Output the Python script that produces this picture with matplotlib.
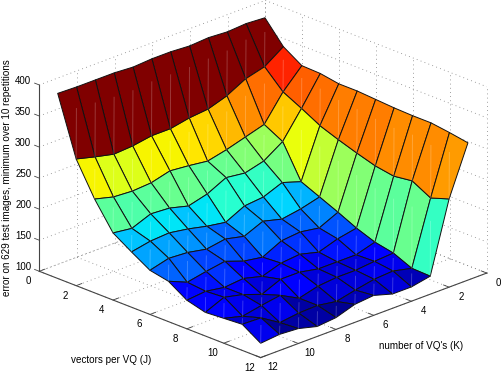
import numpy as np
import matplotlib
matplotlib.use("Agg")
import matplotlib.pyplot as plt
from mpl_toolkits.mplot3d import proj3d

plt.rcParams['font.family'] = ['Liberation Sans', 'DejaVu Sans']

#number of VQ's (K) and vectors per VQ (J)
vq_counts = [1, 2, 3, 4, 5, 6, 7, 8, 9, 10, 11, 12]
vectors_per_vq = [1, 2, 3, 4, 5, 6, 7, 8, 9, 10, 11, 12]

#error values, one list per J, going K = 1..12
error_j1 = [395, 397, 395, 397, 395, 397, 397, 395, 397, 397, 397, 398]
error_j2 = [360, 339, 331, 315, 305, 302, 296, 296, 291, 289, 296, 304]
error_j3 = [341, 310, 269, 260, 251, 244, 248, 251, 243, 241, 243, 251]
error_j4 = [340, 295, 253, 233, 225, 229, 214, 206, 214, 216, 204, 208]
error_j5 = [335, 279, 200, 210, 198, 195, 180, 185, 192, 197, 195, 189]
error_j6 = [335, 268, 187, 179, 174, 182, 169, 176, 171, 177, 179, 171]
error_j7 = [333, 258, 174, 160, 165, 162, 147, 152, 163, 158, 152, 165]
error_j8 = [331, 249, 160, 154, 144, 152, 149, 139, 147, 144, 149, 146]
error_j9 = [330, 244, 149, 140, 140, 140, 146, 146, 133, 144, 151, 138]
error_j10 = [330, 248, 143, 141, 138, 138, 135, 127, 143, 138, 132, 140]
error_j11 = [326, 232, 130, 137, 135, 129, 122, 127, 126, 122, 141, 142]
error_j12 = [321, 242, 129, 123, 123, 132, 129, 119, 116, 124, 126, 123]

axis_ticks = [0, 2, 4, 6, 8, 10, 12]
z_ticks = [100, 150, 200, 250, 300, 350, 400]

errors = np.array([error_j1, error_j2, error_j3, error_j4, error_j5, error_j6,
                   error_j7, error_j8, error_j9, error_j10, error_j11, error_j12], dtype=float)

fig = plt.figure(figsize=(5.04, 3.89), dpi=100)
#axes is bigger than the figure so nothing gets clipped at its edge
size = 700
ax = fig.add_axes([(263 - 0.5135 * size) / 504, (210 - 0.5135 * size) / 389, size / 504, size / 389],
                  projection='3d', proj_type='ortho', computed_zorder=False)
ax.set_box_aspect((1, 1, 0.637), zoom=1.225 * 389 / size)
ax.view_init(elev=22.44, azim=45.6)
ax.set_xlim(0, 12)
ax.set_ylim(0, 12)
ax.set_zlim(100, 400)
ax.set_axis_off()
fig.canvas.draw()

#x is K and y is J, that way J runs to the right like in the original
def gridLine(xs, ys, zs):
    ax.plot(xs, ys, zs, color='0.5', lw=0.6, ls=(0, (1, 4)), zorder=1)

#puts a label at a 3d spot but as plain figure text
def tickLabel(k, j, z, label, ha):
    x2, y2, _ = proj3d.proj_transform(k, j, z, ax.get_proj())
    pos = fig.transFigure.inverted().transform(ax.transData.transform((x2, y2)))
    fig.text(pos[0], pos[1], label, fontsize=7, ha=ha, va='center', color='k')

for t in axis_ticks:
    #back walls
    gridLine([t, t], [0, 0], [100, 400])
    gridLine([0, 0], [t, t], [100, 400])
    #floor
    gridLine([t, t], [0, 12], [100, 100])
    gridLine([0, 12], [t, t], [100, 100])
for z in z_ticks:
    gridLine([12, 0], [0, 0], [z, z])
    gridLine([0, 0], [0, 12], [z, z])

#face colour comes from the lowest index corner, as matlab does it
jet = plt.get_cmap('jet', 64)
norm = plt.Normalize(errors.min() - 2, errors.max())
K, J = np.meshgrid(vq_counts, vectors_per_vq)
ax.plot_surface(K, J, errors, facecolors=jet(norm(errors)), shade=False,
                rcount=12, ccount=12, edgecolor='#111111', linewidth=0.7,
                antialiased=True, zorder=2)

#faint seams down the diagonal of each face, the original has them too
for j in range(11):
    for k in range(11):
        z_low = errors[j + 1, k + 1]
        z_high = errors[j, k]
        ax.plot([vq_counts[k] + 0.3, vq_counts[k + 1]], [vectors_per_vq[j] + 0.3, vectors_per_vq[j + 1]],
                [z_low + 0.7 * (z_high - z_low), z_low], color='white', alpha=0.22, lw=0.7, zorder=2.5)

#solid axis lines and ticks
axis_col = '#444444'
ax.plot([12, 12], [0, 12], [100, 100], color=axis_col, lw=0.8, zorder=3)
ax.plot([12, 0], [12, 12], [100, 100], color=axis_col, lw=0.8, zorder=3)
ax.plot([12, 12], [0, 0], [100, 400], color=axis_col, lw=0.8, zorder=3)

for t in axis_ticks:
    ax.plot([12, 11.7], [t, t], [100, 100], color=axis_col, lw=0.6, zorder=3)
    ax.plot([t, t], [12, 11.7], [100, 100], color=axis_col, lw=0.6, zorder=3)
    tickLabel(13.0, t + 0.42, 100, str(t), 'center')
    tickLabel(t + 0.36, 13.0, 100, str(t), 'center')
for z in z_ticks:
    ax.plot([12, 12], [0, -0.25], [z, z], color=axis_col, lw=0.6, zorder=3)
    tickLabel(12, -0.43, z + 2, str(z), 'right')

fig.text(111 / 504, 1 - 360 / 389, 'vectors per VQ (J)', fontsize=7.1, ha='center', va='center')
fig.text(421 / 504, 1 - 345.7 / 389, "number of VQ's (K)", fontsize=7.1, ha='center', va='center')
fig.text(7 / 504, 1 - 177.5 / 389, 'error on 629 test images, minimum over 10 repetitions',
         fontsize=7.1, rotation=90, ha='center', va='center')

fig.savefig('out.png', dpi=100)
